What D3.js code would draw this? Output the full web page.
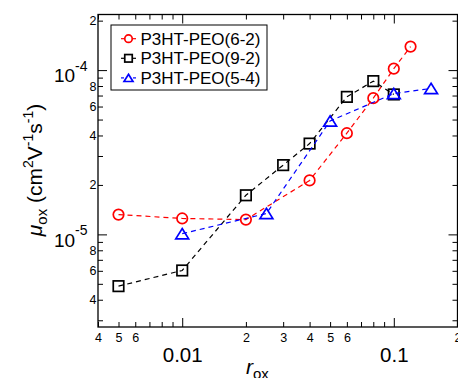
<!DOCTYPE html>
<html>
<head>
<meta charset="utf-8">
<script src="https://cdn.jsdelivr.net/npm/d3@7"></script>
<style>
  body { margin: 0; background: #fff; }
  svg { display: block; font-family: "Liberation Sans", Arial, sans-serif; }
</style>
</head>
<body>
<svg id="chart" width="458" height="378"></svg>
<script>
// P3HT-PEO(6-2)
const rox62 = [0.005, 0.01, 0.02, 0.04, 0.06, 0.08, 0.1, 0.12];
const mu62  = [1.32e-5, 1.25e-5, 1.23e-5, 2.13e-5, 4.13e-5, 6.75e-5, 1.02e-4, 1.39e-4];
// P3HT-PEO(9-2)
const rox92 = [0.005, 0.01, 0.02, 0.03, 0.04, 0.06, 0.08, 0.1];
const mu92  = [4.84e-6, 6.03e-6, 1.73e-5, 2.64e-5, 3.57e-5, 6.87e-5, 8.57e-5, 7.11e-5];
// P3HT-PEO(5-4)
const rox54 = [0.01, 0.025, 0.05, 0.1, 0.15];
const mu54  = [1.01e-5, 1.34e-5, 4.9e-5, 7.2e-5, 7.73e-5];

const seriesNames = ["P3HT-PEO(6-2)", "P3HT-PEO(9-2)", "P3HT-PEO(5-4)"];

// tick values and labels
const xMinorTicks  = [0.004, 0.005, 0.006, 0.007, 0.008, 0.009, 0.02, 0.03, 0.04, 0.05, 0.06, 0.07, 0.08, 0.09, 0.2];
const xMinorLabels = ["4", "5", "6", "", "", "", "2", "3", "4", "5", "6", "", "", "", "2"];
const xMajorTicks  = [0.01, 0.1];
const xMajorLabels = ["0.01", "0.1"];

const yMinorTicks  = [3e-6, 4e-6, 5e-6, 6e-6, 7e-6, 8e-6, 9e-6, 2e-5, 3e-5, 4e-5, 5e-5, 6e-5, 7e-5, 8e-5, 9e-5, 2e-4];
const yMinorLabels = ["", "4", "", "6", "", "8", "", "2", "", "4", "", "6", "", "8", "", "2"];
const yMajorTicks  = [1e-5, 1e-4];
const yMajorExp    = ["-5", "-4"];

const L = 98, R = 457.5, T = 14.5, B = 327;

const x = d3.scaleLog().domain([0.004, 0.2]).range([L, R]);
const y = d3.scaleLog().domain([2.73e-6, 2.18e-4]).range([B, T]);

const svg = d3.select("#chart");

// ---- axes ----
function styleAxis(g, size) {
  g.attr("font-family", null).attr("font-size", size);
  g.select(".domain").remove();
  g.selectAll("line").attr("stroke", "#000").attr("stroke-width", 1);
  g.selectAll("text").attr("fill", "#000");
}

svg.append("g").attr("transform", `translate(0,${B})`)
  .call(d3.axisBottom(x).tickValues(xMinorTicks).tickSize(-5).tickPadding(6)
    .tickFormat((d, i) => xMinorLabels[i]))
  .call(g => styleAxis(g, 12.5));
svg.append("g").attr("transform", `translate(0,${B})`)
  .call(d3.axisBottom(x).tickValues(xMajorTicks).tickSize(-9).tickPadding(20)
    .tickFormat((d, i) => xMajorLabels[i]))
  .call(g => styleAxis(g, 20.5));

svg.append("g").attr("transform", `translate(0,${T})`)
  .call(d3.axisTop(x).tickValues(xMinorTicks).tickSize(-5).tickFormat(""))
  .call(g => styleAxis(g, 10));
svg.append("g").attr("transform", `translate(0,${T})`)
  .call(d3.axisTop(x).tickValues(xMajorTicks).tickSize(-9).tickFormat(""))
  .call(g => styleAxis(g, 10));

svg.append("g").attr("transform", `translate(${L},0)`)
  .call(d3.axisLeft(y).tickValues(yMinorTicks).tickSize(-5).tickPadding(1.5)
    .tickFormat((d, i) => yMinorLabels[i]))
  .call(g => styleAxis(g, 12.5));
const yMaj = svg.append("g").attr("transform", `translate(${L},0)`)
  .call(d3.axisLeft(y).tickValues(yMajorTicks).tickSize(-9).tickFormat(""))
  .call(g => styleAxis(g, 10));
yMaj.selectAll(".tick").each(function(d, i) {
  const t = d3.select(this).append("text")
    .attr("x", -10.5).attr("y", 11.7).attr("text-anchor", "end").attr("fill", "#000");
  t.append("tspan").attr("font-size", 19).text("10");
  t.append("tspan").attr("font-size", 14).attr("dy", -11.7).text(yMajorExp[i]);
});

svg.append("g").attr("transform", `translate(${R},0)`)
  .call(d3.axisRight(y).tickValues(yMinorTicks).tickSize(-5).tickFormat(""))
  .call(g => styleAxis(g, 10));
svg.append("g").attr("transform", `translate(${R},0)`)
  .call(d3.axisRight(y).tickValues(yMajorTicks).tickSize(-9).tickFormat(""))
  .call(g => styleAxis(g, 10));

svg.append("rect")
  .attr("x", L).attr("y", T).attr("width", R - L).attr("height", B - T)
  .attr("fill", "none").attr("stroke", "#000").attr("stroke-width", 1.3);

// axis titles
const xt = svg.append("text").attr("x", 246).attr("y", 374).attr("fill", "#000");
xt.append("tspan").attr("font-size", 21).attr("font-style", "italic").text("r");
xt.append("tspan").attr("font-size", 15).attr("dy", 5).text("ox");

const yt = svg.append("text")
  .attr("transform", "translate(42,170) rotate(-90)")
  .attr("text-anchor", "middle").attr("fill", "#000").attr("font-size", 21);
yt.append("tspan").attr("font-style", "italic").text("μ");
yt.append("tspan").attr("font-size", 15).attr("dy", 5).text("ox");
yt.append("tspan").attr("dy", -5).text(" (cm");
yt.append("tspan").attr("font-size", 14).attr("dy", -9).text("2");
yt.append("tspan").attr("dy", 9).text("V");
yt.append("tspan").attr("font-size", 14).attr("dy", -9).text("-1");
yt.append("tspan").attr("dy", 9).text("s");
yt.append("tspan").attr("font-size", 14).attr("dy", -9).text("-1");
yt.append("tspan").attr("dy", 9).text(")");

// ---- series ----
const series = [
  {name: seriesNames[0], xs: rox62, ys: mu62, color: "#ff0000", shape: "circle"},
  {name: seriesNames[1], xs: rox92, ys: mu92, color: "#000000", shape: "square"},
  {name: seriesNames[2], xs: rox54, ys: mu54, color: "#0000ff", shape: "triangle"},
];

function marker(g, shape, cx, cy, s, color) {
  if (shape === "circle") {
    g.append("circle").attr("cx", cx).attr("cy", cy).attr("r", s / 2);
  } else if (shape === "square") {
    g.append("rect").attr("x", cx - s / 2).attr("y", cy - s / 2).attr("width", s).attr("height", s);
  } else {
    const h = s * 0.9;
    g.append("path").attr("d", `M${cx},${cy - h / 2}L${cx + s * 0.56},${cy + h / 2}L${cx - s * 0.56},${cy + h / 2}Z`);
  }
  g.selectAll("*").attr("fill", "none").attr("stroke", color).attr("stroke-width", 1.7);
}

const line = d3.line().x(d => x(d[0])).y(d => y(d[1]));

series.forEach(s => {
  const pts = s.xs.map((v, i) => [v, s.ys[i]]);
  svg.append("path").datum(pts)
    .attr("d", line)
    .attr("fill", "none").attr("stroke", s.color)
    .attr("stroke-width", 1.2).attr("stroke-dasharray", "5,4");
  pts.forEach(p => {
    marker(svg.append("g"), s.shape, x(p[0]), y(p[1]), s.shape === "triangle" ? 11.5 : 10.5, s.color);
  });
});

// ---- legend ----
const lg = svg.append("g");
lg.append("rect").attr("x", 111).attr("y", 25).attr("width", 156).attr("height", 65)
  .attr("fill", "#fff").attr("stroke", "#000").attr("stroke-width", 1);
series.forEach((s, i) => {
  const cy = 38.7 + i * 19.6;
  lg.append("line").attr("x1", 121).attr("x2", 136).attr("y1", cy).attr("y2", cy)
    .attr("stroke", s.color).attr("stroke-width", 1.2);
  const mg = lg.append("g");
  mg.append("rect").attr("x", 124).attr("y", cy - 4).attr("width", 9).attr("height", 8).attr("fill", "#fff");
  marker(mg, s.shape, 128.5, cy, s.shape === "triangle" ? 8 : 7.5, s.color);
  mg.select("rect:first-child").attr("fill", "#fff").attr("stroke", "none");
  lg.append("text").attr("x", 140.5).attr("y", cy + 6).attr("font-size", 17).attr("fill", "#000").text(s.name);
});
</script>
</body>
</html>
